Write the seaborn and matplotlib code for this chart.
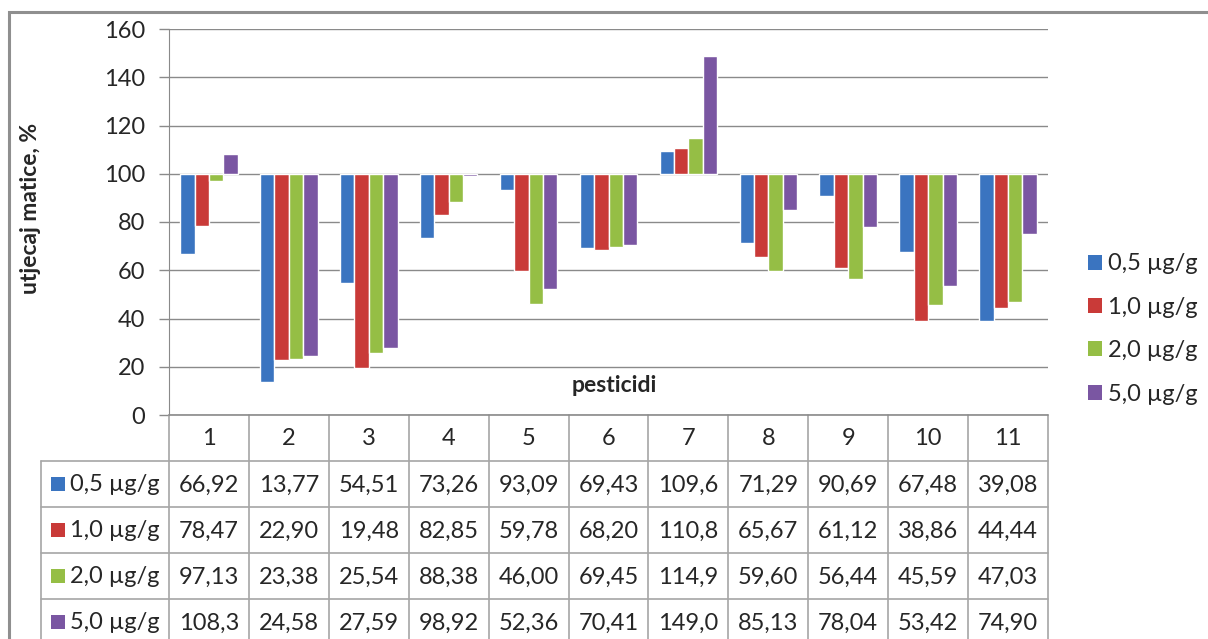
import matplotlib
matplotlib.use("Agg")
import matplotlib.pyplot as plt
import matplotlib.patches as mpatches
import seaborn as sns
import pandas as pd

# data (utjecaj matice, %)
pesticidi = ["1", "2", "3", "4", "5", "6", "7", "8", "9", "10", "11"]
doze = ["0,5 µg/g", "1,0 µg/g", "2,0 µg/g", "5,0 µg/g"]
s_05 = [66.92, 13.77, 54.51, 73.26, 93.09, 69.43, 109.6, 71.29, 90.69, 67.48, 39.08]
s_10 = [78.47, 22.90, 19.48, 82.85, 59.78, 68.20, 110.8, 65.67, 61.12, 38.86, 44.44]
s_20 = [97.13, 23.38, 25.54, 88.38, 46.00, 69.45, 114.9, 59.60, 56.44, 45.59, 47.03]
s_50 = [108.3, 24.58, 27.59, 98.92, 52.36, 70.41, 149.0, 85.13, 78.04, 53.42, 74.90]
boje = ["#3a74c0", "#c93a38", "#95be45", "#7a56a2"]
baseline = 100

series = [s_05, s_10, s_20, s_50]
rows = []
for d, vals in zip(doze, series):
    for p, v in zip(pesticidi, vals):
        rows.append({"pesticid": p, "doza": d, "vrijednost": v, "delta": v - baseline})
df = pd.DataFrame(rows)

sns.set_style("white")
plt.rcParams["font.family"] = ["Lato", "DejaVu Sans"]
grid_col = "#8a8a8a"
line_col = "#a6a6a6"
fs = 17

W, H = 1208, 639
fig = plt.figure(figsize=(W / 100, H / 100), dpi=100)

def fx(px):
    return px / W

def fy(py):
    return 1 - py / H

# outer chart frame
fig.patches.append(mpatches.Rectangle((fx(9), fy(660)), fx(1230) - fx(9), fy(12) - fy(660),
                                      transform=fig.transFigure, fill=False,
                                      edgecolor="#8f8f8f", lw=2.2, zorder=0))

ax = fig.add_axes([fx(169), fy(415), fx(1048) - fx(169), fy(29) - fy(415)])
sns.barplot(data=df, x="pesticid", y="delta", hue="doza", palette=boje,
            width=0.72, bottom=baseline, legend=False, saturation=1, ax=ax, zorder=3)
ax.set_ylim(0, 160)
ax.set_xlim(-0.5, 10.5)
ax.set_yticks(range(0, 161, 20))
ax.yaxis.grid(True, color=grid_col, lw=1)
ax.set_axisbelow(True)
ax.tick_params(axis="y", length=7, width=1, color=grid_col, pad=10, labelsize=fs, left=True)
ax.tick_params(axis="x", length=0, labelbottom=False)
ax.set_xlabel("")
ax.set_ylabel("")
for s in ["top", "right", "bottom"]:
    ax.spines[s].set_visible(False)
ax.spines["left"].set_color(grid_col)

fig.text(fx(31), fy(208), "utjecaj matice, %", rotation=90, fontsize=16.5,
         fontweight="bold", ha="center", va="center")
fig.text(fx(614), fy(386), "pesticidi", fontsize=16.5, fontweight="bold",
         ha="center", va="center")

# data table under the plot
lab_left = -0.5 - 128 / 79.9
tab = fig.add_axes([fx(41), fy(645), fx(1048) - fx(41), fy(415) - fy(645)])
tab.set_xlim(lab_left, 10.5)
tab.set_ylim(5, 0)
tab.axis("off")
for k in range(12):
    tab.plot([k - 0.5, k - 0.5], [0, 5], color=line_col, lw=1.2, clip_on=False)
tab.plot([lab_left, lab_left], [1, 5], color=line_col, lw=1.2, clip_on=False)
tab.plot([-0.5, 10.5], [0, 0], color=grid_col, lw=1.2, clip_on=False)
for r in range(1, 6):
    tab.plot([lab_left, 10.5], [r, r], color=line_col, lw=1.2, clip_on=False)

for i, p in enumerate(pesticidi):
    tab.text(i, 0.52, p, ha="center", va="center", fontsize=fs)


def fmt(v):
    s = f"{v:.1f}" if v >= 100 else f"{v:.2f}"
    return s.replace(".", ",")


for r, (d, vals, c) in enumerate(zip(doze, series, boje), start=1):
    tab.add_patch(mpatches.Rectangle((lab_left + 0.13, r + 0.5 - 0.15), 0.17, 0.3,
                                     facecolor=c, edgecolor="none"))
    tab.text(lab_left + 0.36, r + 0.52, d, ha="left", va="center", fontsize=fs)
    for i, v in enumerate(vals):
        tab.text(i, r + 0.52, fmt(v), ha="center", va="center", fontsize=fs)

# legend on the right
handles = [mpatches.Patch(facecolor=c, edgecolor="none", label=d) for d, c in zip(doze, boje)]
fig.legend(handles=handles, loc="center left", bbox_to_anchor=(fx(1076), fy(329)),
           frameon=False, fontsize=fs, handlelength=0.6, handleheight=0.6,
           handletextpad=0.25, labelspacing=0.95, borderpad=0)

fig.savefig("out.png", dpi=100)
